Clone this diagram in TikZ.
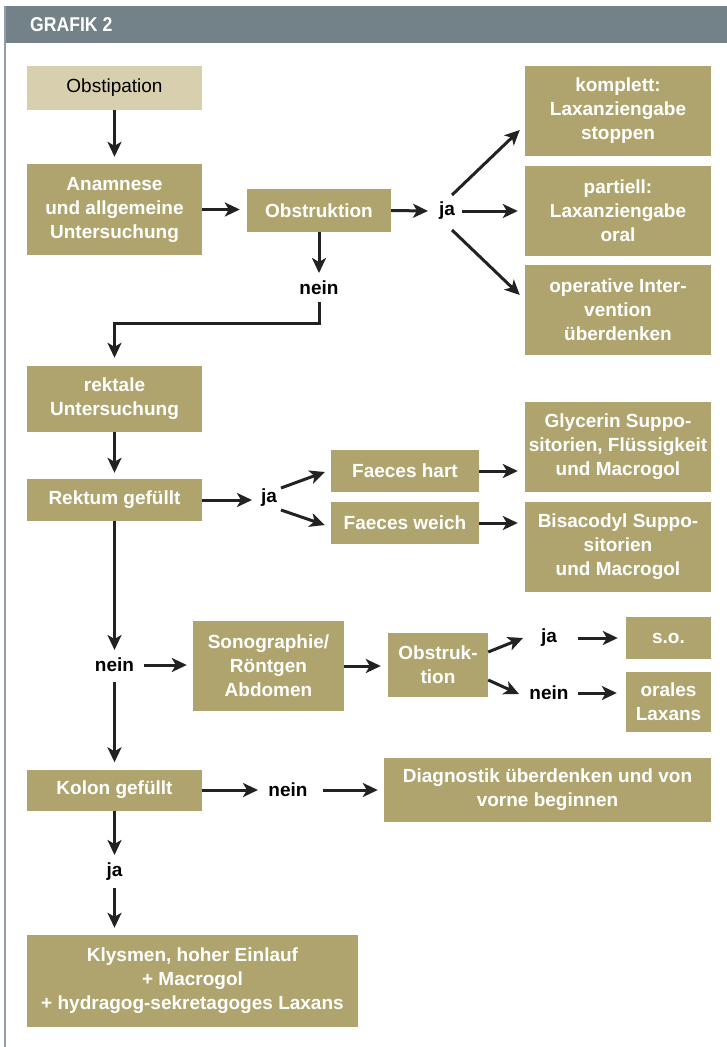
\documentclass[tikz,border=0pt]{standalone}
\usepackage{fontspec}
\setmainfont{Liberation Sans}
\newfontfamily\hdrfont{Liberation Sans}[FakeStretch=0.88]
\usetikzlibrary{arrows.meta,calc}
\definecolor{boxc}{HTML}{B0A46E}
\definecolor{lightc}{HTML}{D8CFAE}
\definecolor{hdrc}{HTML}{738288}
\definecolor{framec}{HTML}{8E9DA6}
\definecolor{arrc}{HTML}{222222}
\tikzset{
  box/.style={fill=boxc,text=white,font=\fontsize{19}{24}\selectfont\bfseries,align=center,inner sep=0pt},
  lbl/.style={text=black,font=\fontsize{19}{24}\selectfont\bfseries,inner sep=2pt},
  arr/.style={draw=arrc,line width=3pt,-{Stealth[length=15pt,width=14pt,inset=4pt]}},
  conn/.style={draw=arrc,line width=3pt}
}
\begin{document}
\begin{tikzpicture}[x=1pt,y=-1pt]
\useasboundingbox (0,0) rectangle (727,1047);
% header and frame
\fill[hdrc] (5,6) rectangle (727,43);
\draw[framec,line width=1.5pt] (5,6) -- (5,1047);
\node[anchor=west,text=white,font=\hdrfont\fontsize{20}{20}\selectfont\bfseries,inner sep=0pt] (hdr) at (30,25) {GRAFIK 2};
% boxes
\node[box,fill=lightc,text=black,font=\fontsize{19}{24}\selectfont,minimum width=175pt,minimum height=44pt] (obst) at (114.5,88) {Obstipation};
\node[box,minimum width=175pt,minimum height=91pt] (anam) at (114.5,209.5) {Anamnese\\und allgemeine\\Untersuchung};
\node[box,minimum width=144pt,minimum height=43pt] (obstr) at (319,210.5) {Obstruktion};
\node[box,minimum width=186pt,minimum height=90pt] (kompl) at (618,111) {komplett:\\Laxanziengabe\\stoppen};
\node[box,minimum width=186pt,minimum height=90pt] (part) at (618,211) {partiell:\\Laxanziengabe\\oral};
\node[box,minimum width=186pt,minimum height=90pt] (oper) at (618,310) {operative Inter-\\vention\\überdenken};
\node[box,minimum width=175pt,minimum height=66pt] (rekt) at (114.5,399) {rektale\\Untersuchung};
\node[box,minimum width=175pt,minimum height=42pt] (rekg) at (114.5,500) {Rektum gefüllt};
\node[box,minimum width=148pt,minimum height=42pt] (fh) at (405,471) {Faeces hart};
\node[box,minimum width=148pt,minimum height=42pt] (fw) at (405,523) {Faeces weich};
\node[box,minimum width=186pt,minimum height=90pt] (gly) at (618,447) {Glycerin Suppo-\\sitorien, Flüssigkeit\\und Macrogol};
\node[box,minimum width=186pt,minimum height=90pt] (bis) at (618,547) {Bisacodyl Suppo-\\sitorien\\und Macrogol};
\node[box,minimum width=151pt,minimum height=90pt] (sono) at (268.5,666) {Sonographie/\\Röntgen\\Abdomen};
\node[box,minimum width=100pt,minimum height=64pt] (obstr2) at (438,665) {Obstruk-\\tion};
\node[box,minimum width=85pt,minimum height=42pt] (so) at (668.5,638) {s.o.};
\node[box,minimum width=85pt,minimum height=60pt] (oral) at (668.5,702) {orales\\Laxans};
\node[box,minimum width=175pt,minimum height=41pt] (kolon) at (114.5,790) {Kolon gefüllt};
\node[box,minimum width=327pt,minimum height=64pt] (diag) at (547.5,790) {Diagnostik überdenken und von\\vorne beginnen};
\node[box,minimum width=331pt,minimum height=92pt] (klys) at (192.5,981) {Klysmen, hoher Einlauf\\+ Macrogol\\+ hydragog-sekretagoges Laxans};
% labels
\node[lbl] (ja1) at (447,211) {ja};
\node[lbl] (nein1) at (319,288) {nein};
\node[lbl] (ja2) at (269,498) {ja};
\node[lbl] (nein2) at (114.5,665) {nein};
\node[lbl] (ja3) at (549,638) {ja};
\node[lbl] (nein3) at (549,693) {nein};
\node[lbl] (nein4) at (288,790) {nein};
\node[lbl] (ja4) at (114.5,872) {ja};
% connectors
\draw[arr,shorten >=7pt] (obst.south) -- (anam.north);
\draw[arr,shorten >=7pt] (anam.east) -- (anam.east -| obstr.west);
\draw[arr] (obstr.east) -- ($(ja1)+(-19,0)$);
\draw[arr] ($(ja1)+(5,-16)$) -- ($(kompl.west)+(-5,19)$);
\draw[arr] ($(ja1)+(15,0)$) -- ($(part.west)+(-7,0)$);
\draw[arr] ($(ja1)+(5,19)$) -- ($(oper.west)+(-5,-15)$);
\draw[arr] (obstr.south) -- ($(nein1)+(0,-15)$);
\draw[arr] ($(nein1)+(0,14)$) -- ($(nein1)+(0,35)$) -| ($(rekt.north)+(0,-8)$);
\draw[arr,shorten >=6pt] (rekt.south) -- (rekg.north);
\draw[arr] (rekg.east) -- ($(ja2)+(-17,2)$);
\draw[arr] ($(ja2)+(12,-10)$) -- ($(fh.west)+(-6,1)$);
\draw[arr] ($(ja2)+(12,12)$) -- ($(fw.west)+(-6,2)$);
\draw[arr,shorten >=7pt] (fh.east) -- (fh.east -| gly.west);
\draw[arr,shorten >=7pt] (fw.east) -- (fw.east -| bis.west);
\draw[arr] (rekg.south) -- ($(nein2)+(0,-15)$);
\draw[arr] ($(nein2)+(29,0)$) -- ($(sono.west)+(-6,-1)$);
\draw[arr] ($(nein2)+(0,17)$) -- ($(kolon.north)+(0,-7)$);
\draw[arr,shorten >=7pt] (sono.east) -- (sono.east -| obstr2.west);
\draw[arr] ($(obstr2.east)+(0,-13)$) -- ($(ja3)+(-26,0)$);
\draw[arr] ($(obstr2.east)+(0,15)$) -- ($(nein3)+(-30,1)$);
\draw[arr,shorten >=8pt] ($(ja3)+(29,0)$) -- (ja3 -| so.west);
\draw[arr,shorten >=9pt] ($(nein3)+(29,0)$) -- (nein3 -| oral.west);
\draw[arr] (kolon.east) -- ($(nein4)+(-30,0)$);
\draw[arr,shorten >=6pt] ($(nein4)+(35,0)$) -- (nein4 -| diag.west);
\draw[arr] (kolon.south) -- ($(ja4)+(0,-17)$);
\draw[arr,shorten >=7pt] ($(ja4)+(0,16)$) -- (ja4 |- klys.north);
\end{tikzpicture}
\end{document}
